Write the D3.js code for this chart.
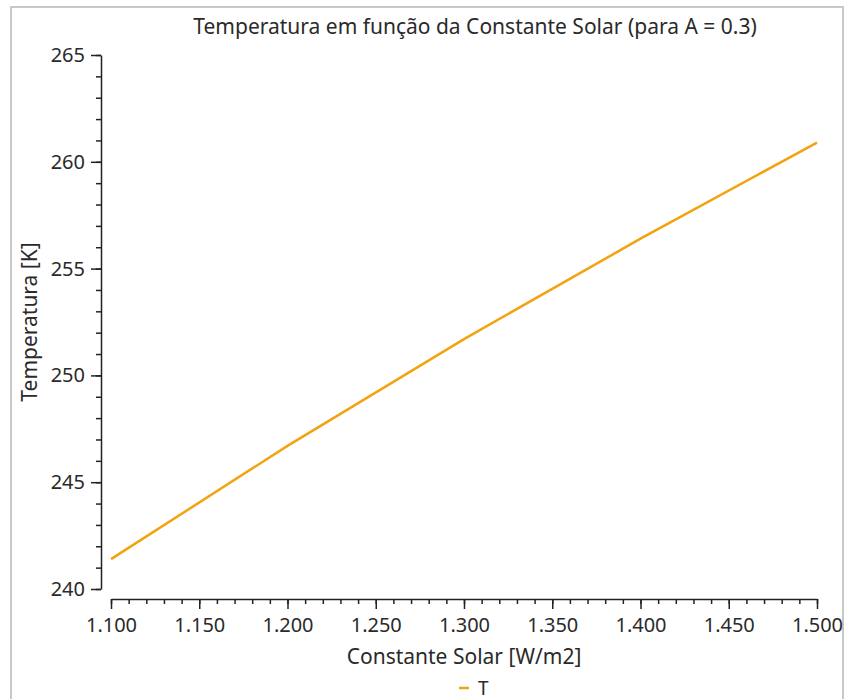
<!DOCTYPE html>
<html lang="pt">
<head>
  <meta charset="UTF-8" />
  <title>Temperatura em função da Constante Solar</title>
  <style>
    html, body { margin: 0; padding: 0; background: #fff; }
    body { font-family: "Noto Sans", "Open Sans", sans-serif; }
    .axis path, .axis line { stroke: #222; stroke-width: 1.5px; }
    .axis text { font-size: 20px; fill: #2a2a2a; font-family: "Noto Sans", sans-serif; }
    .lbl { font-size: 21px; fill: #2a2a2a; font-family: "Noto Sans", sans-serif; }
  </style>
</head>
<body>
  <svg id="chart" width="846" height="699"></svg>

  <script src="https://cdn.jsdelivr.net/npm/d3@7/dist/d3.min.js"></script>
  <script>
    // data
    const solar = [1.1, 1.2, 1.3, 1.4, 1.5];          // constante solar (x1000 W/m2)
    const temp = [241.4, 246.7, 251.7, 256.4, 260.9]; // temperatura [K]
    const xTicks = [1.1, 1.15, 1.2, 1.25, 1.3, 1.35, 1.4, 1.45, 1.5];
    const yTicks = [240, 245, 250, 255, 260, 265];

    const svg = d3.select("#chart");

    // frame
    svg.append("rect")
      .attr("x", 11).attr("y", 7)
      .attr("width", 832).attr("height", 720)
      .attr("fill", "none")
      .attr("stroke", "#c8c8c8")
      .attr("stroke-width", 2);

    const x = d3.scaleLinear().domain([1.1, 1.5]).range([111, 817]);
    const y = d3.scaleLinear().domain([240, 265]).range([589, 55]);

    // x axis: minor ticks then major
    svg.append("g")
      .attr("class", "axis")
      .attr("transform", "translate(0,599)")
      .call(d3.axisBottom(x).ticks(40).tickSize(5).tickFormat(""))
      .call(g => g.select(".domain").remove());
    svg.append("g")
      .attr("class", "axis")
      .attr("transform", "translate(0,599)")
      .call(d3.axisBottom(x).tickValues(xTicks).tickSize(10).tickSizeOuter(0)
        .tickPadding(9).tickFormat(d3.format(".3f")));

    // y axis
    svg.append("g")
      .attr("class", "axis")
      .attr("transform", "translate(101,0)")
      .call(d3.axisLeft(y).ticks(25).tickSize(5).tickFormat(""))
      .call(g => g.select(".domain").remove());
    svg.append("g")
      .attr("class", "axis")
      .attr("transform", "translate(101,0)")
      .call(d3.axisLeft(y).tickValues(yTicks).tickSize(10).tickSizeOuter(0)
        .tickPadding(6).tickFormat(d3.format("d")));

    // line
    const line = d3.line()
      .x((d, i) => x(solar[i]))
      .y(d => y(d));

    svg.append("path")
      .datum(temp)
      .attr("fill", "none")
      .attr("stroke", "#f2a30f")
      .attr("stroke-width", 2.5)
      .attr("d", line);

    // titles
    svg.append("text")
      .attr("class", "lbl")
      .attr("x", 475).attr("y", 34)
      .attr("text-anchor", "middle")
      .text("Temperatura em função da Constante Solar (para A = 0.3)");

    svg.append("text")
      .attr("class", "lbl")
      .attr("x", 464).attr("y", 664)
      .attr("text-anchor", "middle")
      .text("Constante Solar [W/m2]");

    svg.append("text")
      .attr("class", "lbl")
      .attr("transform", "translate(37,322) rotate(-90)")
      .attr("text-anchor", "middle")
      .text("Temperatura [K]");

    // legend
    const legend = svg.append("g").attr("transform", "translate(459,688)");
    legend.append("line")
      .attr("x1", 0).attr("x2", 10)
      .attr("stroke", "#f2a30f")
      .attr("stroke-width", 2.5);
    legend.append("text")
      .attr("class", "lbl")
      .attr("x", 19).attr("y", 7)
      .style("font-size", "19px")
      .text("T");
  </script>
</body>
</html>
